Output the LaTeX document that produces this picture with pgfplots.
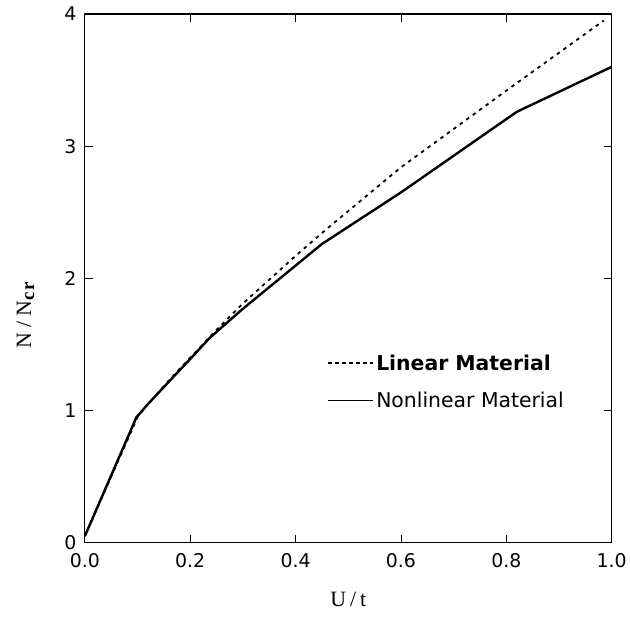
\documentclass[border=0pt]{standalone}
\usepackage{pgfplots}
\pgfplotsset{compat=1.18}
\usepackage{fontspec}
\setmainfont{DejaVu Sans}
\newfontfamily\seriffont{Liberation Serif}
\begin{document}
\begin{tikzpicture}
\begin{axis}[
  scale only axis,
  width=528bp, height=530bp,
  xmin=0, xmax=1, ymin=0, ymax=4,
  xtick={0,0.2,0.4,0.6,0.8,1.0},
  xticklabels={0.0,0.2,0.4,0.6,0.8,1.0},
  ytick={0,1,2,3,4},
  tick align=inside,
  major tick length=8bp,
  axis line style={line width=1.2bp},
  every tick/.style={line width=0.8bp, black},
  /pgf/number format/assume math mode=true,
  tick label style={font=\fontsize{19}{22}\selectfont},
  xticklabel style={yshift=-7bp},
  yticklabel style={xshift=-5bp},
  xlabel={\seriffont\fontsize{22}{26}\selectfont U\hspace{4bp}/\hspace{4bp}t},
  ylabel={\seriffont\fontsize{22}{26}\selectfont N\hspace{5bp}/\hspace{5bp}N\raisebox{-3bp}{\fontsize{19}{20}\selectfont\bfseries c\hspace{1.5bp}r}},
  xlabel style={yshift=-18bp},
  ylabel style={at={(ticklabel* cs:0.43)}, yshift=47bp},
  legend style={at={(axis cs:0.46,1.44)}, anchor=north west, draw=none, fill=none,
    font=\fontsize{20.5}{23}\selectfont, row sep=16bp, inner sep=0pt},
  legend cell align=left,
]
\addplot[black, line width=1.8bp, dash pattern=on 3.5bp off 4.5bp,
  legend image code/.code={\draw[black, line width=2bp, dash pattern=on 4bp off 3bp] (0bp,0bp) -- (45bp,0bp);}]
  coordinates {(0,0.05) (0.1,0.95) (0.12,1.05) (0.16,1.23) (0.2,1.40) (0.25,1.61) (0.3,1.81) (0.35,1.99) (0.4,2.17) (0.458,2.37) (0.6,2.84) (0.8,3.42) (0.985,3.95)};
\addlegendentry{\textbf{Linear Material}}
\addplot[black, line width=2.4bp,
  legend image code/.code={\draw[black, line width=1bp] (0bp,0bp) -- (45bp,0bp);}]
  coordinates {(0,0.05) (0.098,0.95) (0.12,1.05) (0.16,1.22) (0.2,1.39) (0.237,1.55) (0.3,1.77) (0.45,2.26) (0.6,2.65) (0.82,3.26) (1.0,3.60)};
\addlegendentry{Nonlinear Material}
\end{axis}
\path (current axis.south west) ++(-85bp,-80bp) coordinate (bbA);
\path (current axis.north east) ++(17bp,14bp) coordinate (bbB);
\path (bbA) rectangle (bbB);
\end{tikzpicture}
\end{document}
